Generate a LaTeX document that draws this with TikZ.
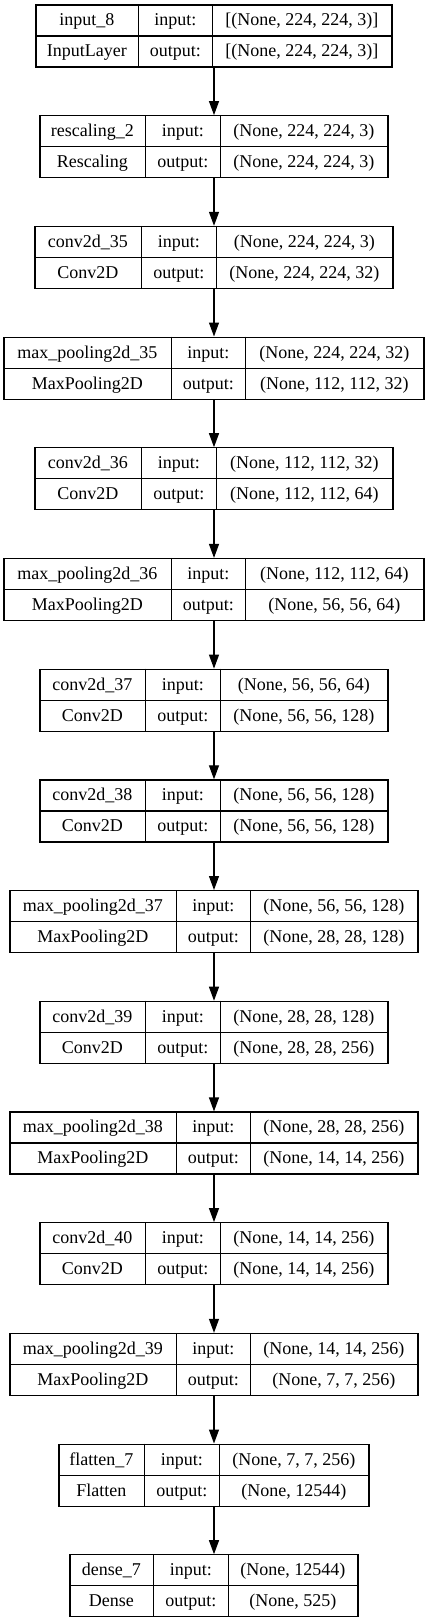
\documentclass[tikz,border=0pt]{standalone}
\usepackage{fontspec}
\setmainfont{Liberation Serif}
\usetikzlibrary{positioning,arrows.meta}

\tikzset{
  layerbox/.style={draw, minimum height=62pt, inner sep=0pt},
  cell/.style={font=\fontsize{18}{21}\selectfont, inner sep=0pt, text height=14pt, text depth=2pt},
}

% #1 id, #2 placement, #3 width, #4 #5 dividers, #6 name, #7 class, #8 input, #9 output
\newcommand{\layer}[9]{%
  \node[layerbox, minimum width=#3pt] (#1) [#2] {};
  \draw ([xshift=#4pt]#1.north west) -- ([xshift=#4pt]#1.south west);
  \draw ([xshift=#5pt]#1.north west) -- ([xshift=#5pt]#1.south west);
  \draw (#1.west) -- (#1.east);
  \node[cell] (#1-name) at ([xshift=#4pt/2, yshift=-15.5pt]#1.north west) {#6};
  \node[cell] (#1-cls) at ([xshift=#4pt/2, yshift=-46.5pt]#1.north west) {#7};
  \node[cell] (#1-inl) at ([xshift={(#4pt+#5pt)/2}, yshift=-15.5pt]#1.north west) {input:};
  \node[cell] (#1-outl) at ([xshift={(#4pt+#5pt)/2}, yshift=-46.5pt]#1.north west) {output:};
  \node[cell] (#1-in) at ([xshift={(#5pt+#3pt)/2}, yshift=-15.5pt]#1.north west) {#8};
  \node[cell] (#1-out) at ([xshift={(#5pt+#3pt)/2}, yshift=-46.5pt]#1.north west) {#9};
}

\begin{document}
\begin{tikzpicture}[x=1pt, y=1pt, line width=1.2pt, node distance=110.7pt, on grid,
    >={Triangle[length=14pt,width=10pt]}]
  \useasboundingbox (0,0) rectangle (428,-1623);

  \layer{L1}{at={(214,-36)}}{356}{103}{177}{input\_8}{InputLayer}{[(None, 224, 224, 3)]}{[(None, 224, 224, 3)]}
  \layer{L2}{below=of L1}{348}{106}{181}{rescaling\_2}{Rescaling}{(None, 224, 224, 3)}{(None, 224, 224, 3)}
  \layer{L3}{below=of L2}{358}{107}{182}{conv2d\_35}{Conv2D}{(None, 224, 224, 3)}{(None, 224, 224, 32)}
  \layer{L4}{below=of L3}{420}{168}{242}{max\_pooling2d\_35}{MaxPooling2D}{(None, 224, 224, 32)}{(None, 112, 112, 32)}
  \layer{L5}{below=of L4}{358}{107}{182}{conv2d\_36}{Conv2D}{(None, 112, 112, 32)}{(None, 112, 112, 64)}
  \layer{L6}{below=of L5}{420}{168}{242}{max\_pooling2d\_36}{MaxPooling2D}{(None, 112, 112, 64)}{(None, 56, 56, 64)}
  \layer{L7}{below=of L6}{348}{106}{181}{conv2d\_37}{Conv2D}{(None, 56, 56, 64)}{(None, 56, 56, 128)}
  \layer{L8}{below=of L7}{348}{106}{181}{conv2d\_38}{Conv2D}{(None, 56, 56, 128)}{(None, 56, 56, 128)}
  \layer{L9}{below=of L8}{408}{167}{241}{max\_pooling2d\_37}{MaxPooling2D}{(None, 56, 56, 128)}{(None, 28, 28, 128)}
  \layer{L10}{below=of L9}{348}{106}{181}{conv2d\_39}{Conv2D}{(None, 28, 28, 128)}{(None, 28, 28, 256)}
  \layer{L11}{below=of L10}{408}{167}{241}{max\_pooling2d\_38}{MaxPooling2D}{(None, 28, 28, 256)}{(None, 14, 14, 256)}
  \layer{L12}{below=of L11}{348}{106}{181}{conv2d\_40}{Conv2D}{(None, 14, 14, 256)}{(None, 14, 14, 256)}
  \layer{L13}{below=of L12}{408}{167}{241}{max\_pooling2d\_39}{MaxPooling2D}{(None, 14, 14, 256)}{(None, 7, 7, 256)}
  \layer{L14}{below=of L13}{310}{86}{161}{flatten\_7}{Flatten}{(None, 7, 7, 256)}{(None, 12544)}
  \layer{L15}{below=of L14}{288}{84}{159}{dense\_7}{Dense}{(None, 12544)}{(None, 525)}

  \foreach \a/\b in {1/2,2/3,3/4,4/5,5/6,6/7,7/8,8/9,9/10,10/11,11/12,12/13,13/14,14/15}
    \draw[->] (L\a) -- (L\b);
\end{tikzpicture}
\end{document}
